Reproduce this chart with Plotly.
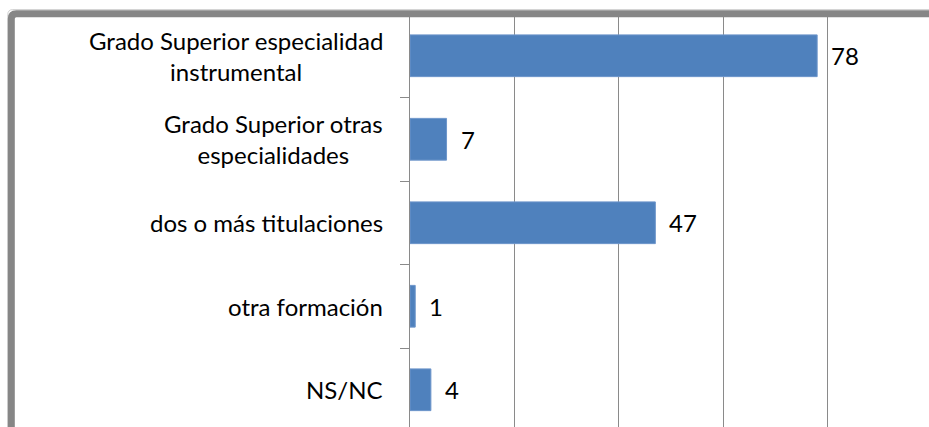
import plotly.graph_objects as go

categories = [
    "Grado Superior especialidad<br>instrumental",
    "Grado Superior otras<br>especialidades",
    "dos o más titulaciones",
    "otra formación",
    "NS/NC",
]
values = [78, 7, 47, 1, 4]

FONT = "Lato"
FS = 24
W, H = 929, 427
L, T = 410, 14
pw = W - L
ph = H - T

fig = go.Figure()
fig.add_trace(go.Bar(
    y=categories, x=values, orientation="h",
    marker=dict(color="#4F81BD", line=dict(color="#6E96CB", width=1)),
    width=0.5, hoverinfo="skip",
))

annotations = []
for c in categories:
    annotations.append(dict(
        x=(385 - L) / pw, xref="paper", y=c, yref="y",
        text=c, showarrow=False, xanchor="right", yanchor="middle", align="center",
        font=dict(family=FONT, size=FS, color="#000000"),
    ))
for c, v in zip(categories, values):
    annotations.append(dict(
        x=v, xref="x", y=c, yref="y", text=str(v), showarrow=False,
        xanchor="left", yanchor="middle", xshift=12,
        font=dict(family=FONT, size=FS, color="#000000"),
    ))

# chart-area frame (rounded top-left corner), extends beyond the cropped edges
xl = (11.3 - L) / pw
yt = (H - 13.7) / ph
rx = 5 / pw
ry = 5 / ph
xr = (W + 30 - L) / pw
yb = -30 / ph
frame_path = (f"M {xl},{yb} L {xl},{yt - ry} Q {xl},{yt} {xl + rx},{yt} L {xr},{yt}")
xo = (7.8 - L) / pw
yo = (H - 9.6) / ph
outer_path = (f"M {xo},{yb} L {xo},{yo - ry} Q {xo},{yo} {xo + rx},{yo} L {xr},{yo}")

fig.update_layout(
    width=W, height=H,
    margin=dict(l=L, r=0, t=T, b=0, pad=0),
    paper_bgcolor="white", plot_bgcolor="white",
    showlegend=False,
    annotations=annotations,
    shapes=[
        dict(type="path", path=outer_path, xref="paper", yref="paper",
             line=dict(color="#D0D0D0", width=1), layer="above"),
        dict(type="path", path=frame_path, xref="paper", yref="paper",
             line=dict(color="#868686", width=7), layer="above"),
    ],
    xaxis=dict(range=[0, pw / 5.22], dtick=20, tick0=0, showgrid=True,
               gridcolor="#8A8A8A", gridwidth=1, showticklabels=False,
               zeroline=False, showline=False, ticks=""),
    yaxis=dict(type="category", categoryorder="array", categoryarray=categories,
               range=[-0.5 + ph / 83.5, -0.5], showticklabels=False,
               ticks="outside", tickson="boundaries", ticklen=9,
               tickcolor="#8A8A8A", showline=True, linecolor="#8A8A8A",
               linewidth=1, showgrid=False, zeroline=False),
    font=dict(family=FONT, size=FS, color="#000000"),
)

fig.write_html("out.html", config={"displayModeBar": False},
               post_script="document.body.style.margin='0';")
